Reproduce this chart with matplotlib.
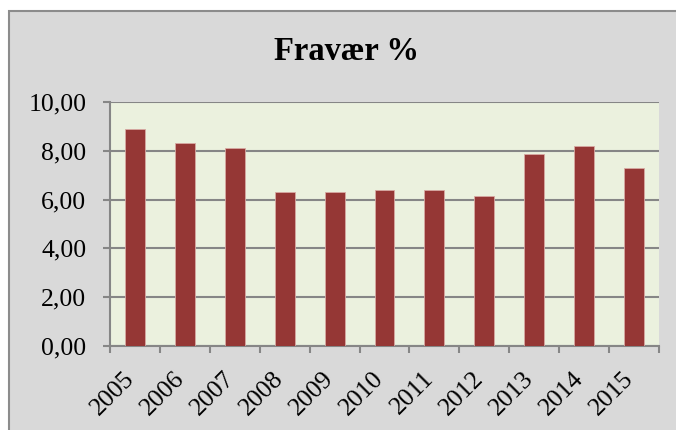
import matplotlib.pyplot as plt
import numpy as np
from matplotlib.patches import Rectangle

years = ["2005", "2006", "2007", "2008", "2009", "2010",
         "2011", "2012", "2013", "2014", "2015"]
fravaer = [8.89, 8.30, 8.10, 6.30, 6.33, 6.38, 6.41, 6.16, 7.86, 8.21, 7.31]
yticks = [0, 2, 4, 6, 8, 10]

W, H = 676, 430
plt.rcParams["font.family"] = ["Liberation Serif", "DejaVu Serif"]

fig = plt.figure(figsize=(W / 100, H / 100), dpi=100, facecolor="white")
# grey chart area with border, cut off at right and bottom
fig.patches.append(Rectangle((9 / W, -0.05), 1.2, (H - 11) / H + 0.05,
                             transform=fig.transFigure, facecolor="#d9d9d9",
                             edgecolor="#8c8c8c", linewidth=1.5, zorder=-10))

ax = fig.add_axes([110 / W, (H - 346) / H, (659 - 110) / W, (346 - 102) / H])
ax.set_facecolor("#ebf1de")

x = np.arange(len(years))
ax.bar(x, fravaer, width=0.4, color="#953735", edgecolor="#d8a9a3",
       linewidth=0.6, zorder=3)

ax.set_xlim(-0.5, len(years) - 0.5)
ax.set_ylim(0, 10)
ax.set_yticks(yticks)
ax.set_yticklabels([f"{v:.2f}".replace(".", ",") for v in yticks], fontsize=18.5)
ax.yaxis.grid(True, color="#868686", linewidth=1.5, zorder=1)

ax.set_xticks(np.arange(len(years) + 1) - 0.5)
ax.set_xticklabels([])
for xi, lab in zip(x, years):
    ax.annotate(lab, xy=(xi, 0), xycoords=("data", "axes fraction"),
                xytext=(-3, -21), textcoords="offset points",
                rotation=45, rotation_mode="anchor", ha="right", va="center",
                fontsize=18.5)

for side in ("top", "right"):
    ax.spines[side].set_visible(False)
for side in ("left", "bottom"):
    ax.spines[side].set_color("#868686")
    ax.spines[side].set_linewidth(1.5)
ax.tick_params(axis="both", length=5, width=1.5, color="#868686")
ax.tick_params(axis="y", pad=12)

fig.text(347 / W, (H - 52) / H, "Fravær %", ha="center", va="center",
         fontsize=23.5, fontweight="bold")

fig.savefig("out.png", dpi=100, facecolor="white")
